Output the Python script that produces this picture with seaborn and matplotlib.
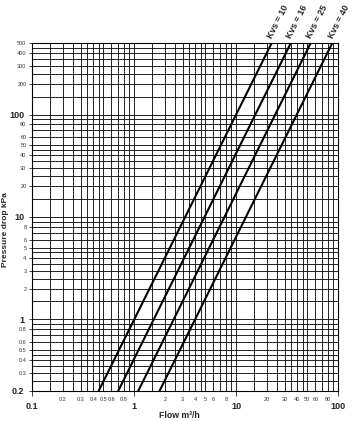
import numpy as np
import pandas as pd
import matplotlib
matplotlib.use("Agg")
import matplotlib.pyplot as plt
import seaborn as sns

# valve curves: flow at the bottom (0.2 kPa) and top (500 kPa) of the chart
kvs_names = ["Kvs = 10", "Kvs = 16", "Kvs = 25", "Kvs = 40"]
flow_low = [0.45, 0.70, 1.10, 1.78]
flow_high = [22.4, 34.5, 54.0, 88.0]
dp_low = 0.2
dp_high = 500

# tick labels
x_big = [0.1, 1, 10, 100]
x_big_lab = ["0.1", "1", "10", "100"]
x_small = [0.2, 0.3, 0.4, 0.5, 0.6, 0.8, 2, 3, 4, 5, 6, 8, 20, 30, 40, 50, 60, 80]
x_small_lab = ["0.2", "0.3", "0.4", "0.5", "0.6", "0.8", "2", "3", "4", "5", "6", "8",
               "20", "30", "40", "50", "60", "80"]
y_big = [0.2, 1, 10, 100]
y_big_lab = ["0.2", "1", "10", "100"]
y_small = [0.3, 0.4, 0.5, 0.6, 0.8, 2, 3, 4, 5, 6, 8, 20, 30, 40, 50, 60, 80, 200, 300, 400, 500]
y_small_lab = ["0.3", "0.4", "0.5", "0.6", "0.8", "2", "3", "4", "5", "6", "8",
               "20", "30", "40", "50", "60", "80", "200", "300", "400", "500"]

# grid mantissas per decade
grid_mant = [1, 1.5, 2, 2.5, 3, 3.5, 4, 4.5, 5, 6, 7, 8, 9]

rows = []
for name, lo, hi in zip(kvs_names, flow_low, flow_high):
    rows.append({"flow": lo, "dp": dp_low, "kvs": name})
    rows.append({"flow": hi, "dp": dp_high, "kvs": name})
df = pd.DataFrame(rows)

sns.set_style("white")
plt.rcParams["font.family"] = ["Liberation Sans", "DejaVu Sans"]

fig = plt.figure(figsize=(3.58, 4.21), dpi=100)
ax = fig.add_axes([0.0894, 0.0713, 0.8547, 0.8266])
ax.set_xscale("log")
ax.set_yscale("log")
ax.set_xlim(0.1, 100)
ax.set_ylim(0.2, 500)

# dense log grid
for dec in [0.1, 1, 10]:
    for m in grid_mant:
        ax.axvline(m * dec, color="#111111", lw=0.65, zorder=1)
for dec in [0.1, 1, 10, 100]:
    for m in grid_mant:
        v = m * dec
        if 0.2 <= v <= 500:
            ax.axhline(v, color="#111111", lw=0.65, zorder=1)
ax.axvline(100, color="#111111", lw=0.65, zorder=1)

sns.lineplot(data=df, x="flow", y="dp", hue="kvs", palette=["black"] * 4,
             legend=False, lw=1.5, ax=ax, zorder=3)

for name, hi in zip(kvs_names, flow_high):
    ax.annotate(name, xy=(hi, dp_high), xytext=(1.5, 2.5), textcoords="offset points",
                rotation=63, rotation_mode="anchor", ha="left", va="bottom",
                fontsize=6.4, fontweight="bold", annotation_clip=False)

ax.set_xticks(x_big, labels=x_big_lab)
ax.set_xticks(x_small, labels=x_small_lab, minor=True)
ax.set_yticks(y_big, labels=y_big_lab)
ax.set_yticks(y_small, labels=y_small_lab, minor=True)

ax.tick_params(axis="x", which="major", direction="out", length=3.5, width=0.6,
               pad=4.5, labelsize=6.5, bottom=True)
ax.tick_params(axis="x", which="minor", length=0, pad=4, labelsize=4,
               labelcolor="#333333")
ax.tick_params(axis="y", which="major", direction="out", length=2.2, width=0.6,
               pad=3.2, labelsize=6.5, left=True)
ax.tick_params(axis="y", which="minor", direction="out", length=2.2, width=0.6,
               pad=1.8, labelsize=4, labelcolor="#333333", left=True)
for lab in ax.get_xticklabels() + ax.get_yticklabels():
    lab.set_fontweight("bold")

for sp in ax.spines.values():
    sp.set_color("black")
    sp.set_linewidth(0.8)

ax.set_xlabel("Flow m\u00b3/h", fontsize=6.3, fontweight="bold")
ax.xaxis.set_label_coords(0.48, -0.058)
ax.set_ylabel("Pressure drop kPa", fontsize=6, fontweight="bold")
ax.yaxis.set_label_coords(-0.075, 0.463)

plt.savefig("out.png", dpi=100)
